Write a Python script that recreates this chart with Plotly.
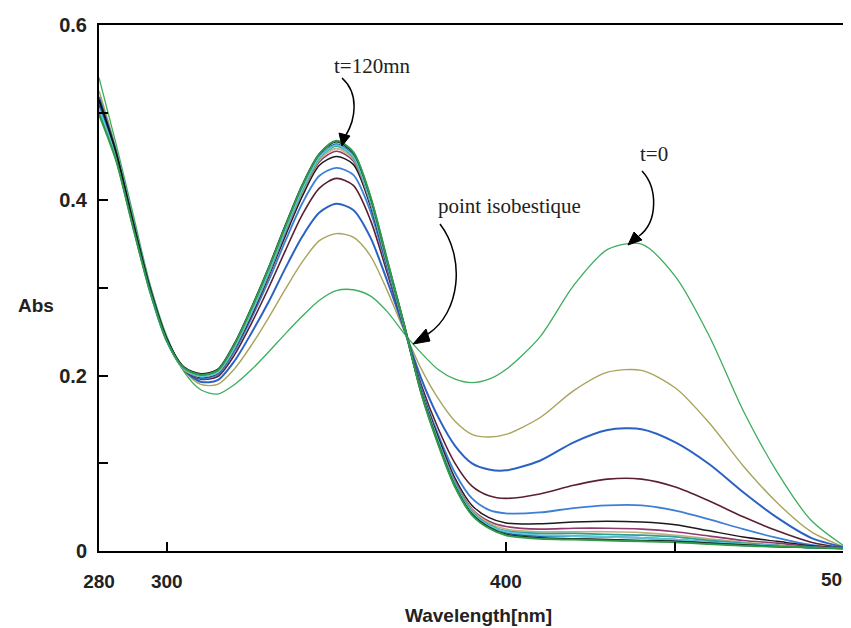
import plotly.graph_objects as go

# ---------------- data ----------------
wavelength = [280, 285, 290, 295, 300, 305, 310, 315, 320, 325, 330, 335, 340, 345, 350,
              355, 360, 365, 370, 375, 380, 385, 390, 395, 400, 410, 420, 430, 440, 450,
              460, 470, 480, 490, 500]

abs_t0 = [0.540, 0.465, 0.385, 0.305, 0.245, 0.205, 0.184, 0.179, 0.190, 0.207, 0.227, 0.248, 0.268, 0.286, 0.297,
          0.298, 0.291, 0.273, 0.248, 0.226, 0.207, 0.196, 0.192, 0.196, 0.207, 0.244, 0.303, 0.344, 0.350, 0.313,
          0.245, 0.160, 0.090, 0.035, 0.005]
abs_s2 = [0.525, 0.459, 0.379, 0.302, 0.243, 0.206, 0.190, 0.190, 0.208, 0.235, 0.266, 0.299, 0.330, 0.354, 0.362,
          0.358, 0.337, 0.297, 0.251, 0.208, 0.174, 0.148, 0.133, 0.130, 0.133, 0.152, 0.183, 0.204, 0.206, 0.186,
          0.146, 0.097, 0.055, 0.022, 0.004]
abs_s3 = [0.518, 0.456, 0.377, 0.301, 0.242, 0.207, 0.193, 0.195, 0.217, 0.249, 0.284, 0.323, 0.359, 0.386, 0.396,
          0.389, 0.358, 0.308, 0.253, 0.197, 0.153, 0.120, 0.100, 0.093, 0.092, 0.103, 0.124, 0.138, 0.139, 0.124,
          0.099, 0.067, 0.038, 0.015, 0.004]
abs_s4 = [0.512, 0.453, 0.375, 0.299, 0.241, 0.207, 0.196, 0.199, 0.224, 0.260, 0.300, 0.343, 0.384, 0.414, 0.425,
          0.417, 0.378, 0.317, 0.254, 0.190, 0.140, 0.100, 0.074, 0.063, 0.060, 0.065, 0.075, 0.082, 0.082, 0.073,
          0.057, 0.039, 0.023, 0.010, 0.003]
abs_s5 = [0.509, 0.452, 0.373, 0.299, 0.241, 0.208, 0.197, 0.201, 0.228, 0.266, 0.308, 0.354, 0.397, 0.428, 0.437,
          0.429, 0.388, 0.322, 0.255, 0.186, 0.133, 0.089, 0.060, 0.047, 0.043, 0.044, 0.049, 0.052, 0.052, 0.046,
          0.036, 0.025, 0.015, 0.007, 0.003]
abs_s6 = [0.507, 0.451, 0.373, 0.298, 0.240, 0.208, 0.198, 0.203, 0.231, 0.269, 0.313, 0.360, 0.405, 0.440, 0.450,
          0.441, 0.394, 0.325, 0.256, 0.184, 0.130, 0.083, 0.052, 0.038, 0.032, 0.031, 0.033, 0.034, 0.033, 0.030,
          0.023, 0.016, 0.011, 0.006, 0.003]
abs_s7 = [0.506, 0.450, 0.372, 0.298, 0.240, 0.208, 0.199, 0.203, 0.232, 0.271, 0.315, 0.363, 0.409, 0.444, 0.456,
          0.445, 0.397, 0.326, 0.256, 0.183, 0.127, 0.080, 0.048, 0.034, 0.028, 0.025, 0.026, 0.026, 0.025, 0.022,
          0.017, 0.012, 0.009, 0.005, 0.003]
abs_s8 = [0.503, 0.448, 0.371, 0.297, 0.239, 0.207, 0.199, 0.204, 0.232, 0.272, 0.316, 0.365, 0.410, 0.446, 0.459,
          0.447, 0.398, 0.327, 0.256, 0.183, 0.126, 0.078, 0.047, 0.032, 0.025, 0.022, 0.022, 0.022, 0.021, 0.018,
          0.014, 0.010, 0.007, 0.004, 0.003]
abs_s9 = [0.500, 0.447, 0.370, 0.296, 0.239, 0.208, 0.200, 0.205, 0.233, 0.273, 0.317, 0.366, 0.412, 0.448, 0.462,
          0.449, 0.399, 0.328, 0.256, 0.182, 0.125, 0.077, 0.045, 0.030, 0.023, 0.020, 0.020, 0.019, 0.018, 0.016,
          0.012, 0.009, 0.006, 0.004, 0.003]
abs_s10 = [0.510, 0.452, 0.373, 0.299, 0.241, 0.209, 0.201, 0.206, 0.235, 0.275, 0.320, 0.368, 0.414, 0.450, 0.464,
           0.451, 0.401, 0.329, 0.257, 0.182, 0.124, 0.076, 0.044, 0.029, 0.021, 0.017, 0.017, 0.016, 0.015, 0.013,
           0.010, 0.008, 0.006, 0.004, 0.003]
abs_s11 = [0.505, 0.450, 0.372, 0.298, 0.240, 0.208, 0.199, 0.204, 0.233, 0.273, 0.318, 0.367, 0.413, 0.449, 0.463,
           0.450, 0.400, 0.328, 0.256, 0.182, 0.125, 0.076, 0.044, 0.029, 0.022, 0.018, 0.017, 0.016, 0.015, 0.013,
           0.010, 0.008, 0.006, 0.004, 0.003]
abs_s12 = [0.515, 0.455, 0.375, 0.300, 0.242, 0.210, 0.202, 0.207, 0.237, 0.278, 0.323, 0.372, 0.418, 0.453, 0.467,
           0.454, 0.404, 0.331, 0.258, 0.181, 0.123, 0.074, 0.042, 0.027, 0.019, 0.015, 0.014, 0.013, 0.012, 0.011,
           0.009, 0.007, 0.005, 0.004, 0.003]
abs_t120 = [0.498, 0.446, 0.370, 0.297, 0.240, 0.209, 0.201, 0.206, 0.236, 0.277, 0.322, 0.371, 0.417, 0.453, 0.468,
            0.455, 0.405, 0.332, 0.258, 0.180, 0.122, 0.073, 0.041, 0.026, 0.018, 0.014, 0.013, 0.012, 0.011, 0.010,
            0.008, 0.006, 0.005, 0.004, 0.003]

x_tick_vals = [280, 300, 400, 450, 500]
x_tick_text = ["280", "300", "400", "", ""]
x_edge_label = "500"          # drawn just inside the right edge, as in the reference
y_tick_vals = [0, 0.1, 0.2, 0.3, 0.4, 0.5, 0.6]
y_tick_text = ["0", "", "0.2", "", "0.4", "", "0.6"]

series = [
    (abs_t0, "#3cae5c", 1.3),
    (abs_s2, "#a9a45c", 1.4),
    (abs_s3, "#2a62c4", 2.0),
    (abs_s4, "#5b2030", 1.6),
    (abs_s5, "#3d7fd6", 1.8),
    (abs_s6, "#1a1a1a", 1.5),
    (abs_s7, "#8e3a6e", 1.6),
    (abs_s8, "#c2b07a", 1.6),
    (abs_s9, "#2aa198", 1.8),
    (abs_s10, "#2255aa", 1.8),
    (abs_s11, "#5fc8d8", 1.8),
    (abs_s12, "#111111", 1.7),
    (abs_t120, "#2e9a4a", 2.0),
]

# ---------------- figure ----------------
W, H = 851, 628
L, R, T, B = 91, 14, 17, 85
X0, X1, Y0, Y1 = 280, 500, 0.0, 0.6


def pt(px, py):
    """pixel position -> data coordinates (for annotation geometry)"""
    x = X0 + (px - L) * (X1 - X0) / (W - L - R)
    y = Y0 + (H - B - py) * (Y1 - Y0) / (H - T - B)
    return x, y


def paper(px, py):
    return (px - L) / (W - L - R), (H - B - py) / (H - T - B)


fig = go.Figure()
for vals, col, w in series:
    fig.add_trace(go.Scatter(x=wavelength, y=vals, mode="lines",
                             line=dict(color=col, width=w, shape="spline", smoothing=0.8),
                             showlegend=False, hoverinfo="skip"))

sans = "Liberation Sans, Arial, sans-serif"
serif = "Liberation Serif, Times New Roman, DejaVu Serif, serif"
tick_font = dict(family=sans, size=19, color="#222", weight="bold")

axis_common = dict(showline=True, linecolor="black", linewidth=2, mirror=True,
                   showgrid=False, zeroline=False, ticks="inside", tickcolor="black",
                   tickwidth=2, ticklen=9, automargin=False)

fig.update_layout(
    width=W, height=H,
    margin=dict(l=L, r=R, t=T, b=B, pad=0),
    paper_bgcolor="white", plot_bgcolor="white",
    xaxis=dict(range=[X0, X1], tickmode="array", tickvals=x_tick_vals, ticktext=x_tick_text,
               ticklabelstandoff=12, tickfont=tick_font, **axis_common),
    yaxis=dict(range=[Y0, Y1], tickmode="array", tickvals=y_tick_vals, ticktext=y_tick_text,
               ticklabelstandoff=6,
               tickfont=dict(family=sans, size=20, color="#222", weight="bold"), **axis_common),
)


def curve(p0, c1, c2, p3):
    a, b, c, d = pt(*p0), pt(*c1), pt(*c2), pt(*p3)
    return f"M {a[0]},{a[1]} C {b[0]},{b[1]} {c[0]},{c[1]} {d[0]},{d[1]}"


def tri(p1, p2, p3):
    a, b, c = pt(*p1), pt(*p2), pt(*p3)
    return f"M {a[0]},{a[1]} L {b[0]},{b[1]} L {c[0]},{c[1]} Z"


shapes = []
# t=120mn arrow
shapes.append(dict(type="path", path=curve((334, 70), (352, 86), (347, 112), (338, 127)),
                   line=dict(color="black", width=1.5)))
shapes.append(dict(type="path", path=tri((331, 125), (342, 128), (334, 138)),
                   fillcolor="black", line=dict(color="black", width=1)))
# point isobestique arrow
shapes.append(dict(type="path", path=curve((432, 216), (458, 250), (452, 305), (420, 326)),
                   line=dict(color="black", width=1.5)))
shapes.append(dict(type="path", path=tri((418, 321), (422, 333), (405, 336)),
                   fillcolor="black", line=dict(color="black", width=1)))
# t=0 arrow
shapes.append(dict(type="path", path=curve((634, 163), (650, 180), (650, 214), (631, 228)),
                   line=dict(color="black", width=1.5)))
shapes.append(dict(type="path", path=tri((626, 224), (634, 232), (620, 237)),
                   fillcolor="black", line=dict(color="black", width=1)))
fig.update_layout(shapes=shapes)

ann = []
for text, (px, py) in [("t=120mn", (364, 58)), ("point isobestique", (501, 198)), ("t=0", (646, 146))]:
    x, y = pt(px, py)
    ann.append(dict(x=x, y=y, xref="x", yref="y", text=text, showarrow=False,
                    font=dict(family=serif, size=21, color="#222"), xanchor="center", yanchor="middle"))
# right-edge x tick label
ex, ey = paper(829, 571)
ann.append(dict(x=ex, y=ey, xref="paper", yref="paper", text=x_edge_label, showarrow=False,
                xanchor="center", yanchor="middle", font=tick_font))
# axis titles
ax_, ay_ = paper(28, 297)
ann.append(dict(x=ax_, y=ay_, xref="paper", yref="paper",
                text="Abs", showarrow=False, xanchor="center", yanchor="middle",
                font=dict(family=sans, size=19, color="#222", weight="bold")))
tx_, ty_ = paper(470, 607)
ann.append(dict(x=tx_, y=ty_, xref="paper", yref="paper",
                text="Wavelength[nm]", showarrow=False, xanchor="center", yanchor="middle",
                font=dict(family=sans, size=19, color="#222", weight="bold")))
fig.update_layout(annotations=ann)

fig.write_html("out.html")
